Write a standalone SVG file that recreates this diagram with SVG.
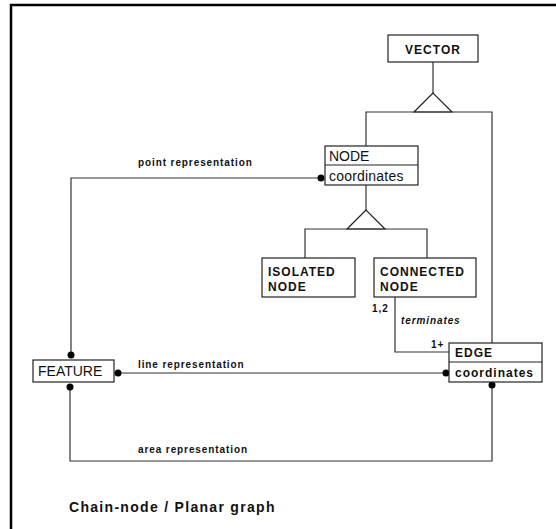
<svg xmlns="http://www.w3.org/2000/svg" width="556" height="529" viewBox="0 0 556 529">
<style>
.box{fill:#fff;stroke:#222;stroke-width:1.2}
.ln{fill:none;stroke:#333;stroke-width:1.2}
.tri{fill:#fff;stroke:#222;stroke-width:1.2}
.dot{fill:#000}
.reg{font-family:"Liberation Sans",Arial,sans-serif;font-size:14px;fill:#111}
.bold{font-family:"Liberation Sans",Arial,sans-serif;font-size:12px;font-weight:bold;letter-spacing:1px;fill:#111}
.lab{font-family:"Liberation Sans",Arial,sans-serif;font-size:10px;font-weight:bold;letter-spacing:0.9px;fill:#111}
.title{font-family:"Liberation Sans",Arial,sans-serif;font-size:14px;font-weight:bold;letter-spacing:1.3px;fill:#111}
</style>
<rect width="556" height="529" fill="#fff"/>
<g id="frame">
<line x1="10" y1="5" x2="556" y2="5" stroke="#000" stroke-width="2.5"/>
<line x1="11" y1="4" x2="11" y2="529" stroke="#000" stroke-width="2.5"/>
</g>
<g id="connectors">
<path class="ln" d="M433 62 V93"/>
<polygon class="tri" points="433,93 414,112 452,112"/>
<path class="ln" d="M366 146 V112 H492 V343"/>
<path class="ln" d="M366 185 V210"/>
<polygon class="tri" points="366,210 347,229 385,229"/>
<path class="ln" d="M305 258 V229 H427 V258"/>
<path class="ln" d="M321 178 H71 V355"/>
<path class="ln" d="M118 373 H446"/>
<path class="ln" d="M70 387 V461 H492 V383"/>
<path class="ln" d="M395 297 V352 H449"/>
<circle class="dot" cx="321" cy="178" r="3.5"/>
<circle class="dot" cx="71" cy="355" r="3.5"/>
<circle class="dot" cx="118" cy="373" r="3.5"/>
<circle class="dot" cx="70" cy="387" r="3.5"/>
<circle class="dot" cx="446" cy="373" r="3.5"/>
<circle class="dot" cx="492" cy="385" r="3.5"/>
<text class="lab" x="138" y="166">point representation</text>
<text class="lab" x="138" y="368">line representation</text>
<text class="lab" x="138" y="453">area representation</text>
<text class="lab" x="372" y="312">1,2</text>
<text class="lab" x="401" y="324" font-style="italic">terminates</text>
<text class="lab" x="431" y="348">1+</text>
</g>
<g id="vector">
<rect class="box" x="388" y="35" width="90" height="27"/>
<text class="bold" x="433" y="54" text-anchor="middle">VECTOR</text>
</g>
<g id="node">
<rect class="box" x="325" y="146" width="93" height="39"/>
<line class="box" x1="325" y1="165" x2="418" y2="165"/>
<text class="reg" x="329" y="161" font-size="15">NODE</text>
<text class="reg" x="329" y="181" font-size="15" letter-spacing="0.2">coordinates</text>
</g>
<g id="isolated">
<rect class="box" x="262" y="258" width="93" height="39"/>
<text class="bold" x="268" y="276">ISOLATED</text>
<text class="bold" x="268" y="291">NODE</text>
</g>
<g id="connected">
<rect class="box" x="374" y="258" width="102" height="39"/>
<text class="bold" x="380" y="276">CONNECTED</text>
<text class="bold" x="380" y="291">NODE</text>
</g>
<g id="feature">
<rect class="box" x="33" y="360" width="81" height="22"/>
<text class="reg" x="38" y="376">FEATURE</text>
</g>
<g id="edge">
<rect class="box" x="449" y="343" width="93" height="39"/>
<line class="box" x1="449" y1="362" x2="542" y2="362"/>
<text class="bold" x="455" y="357">EDGE</text>
<text class="bold" x="455" y="377" letter-spacing="0.3">coordinates</text>
</g>
<text class="title" x="69" y="512">Chain-node / Planar graph</text>
</svg>
